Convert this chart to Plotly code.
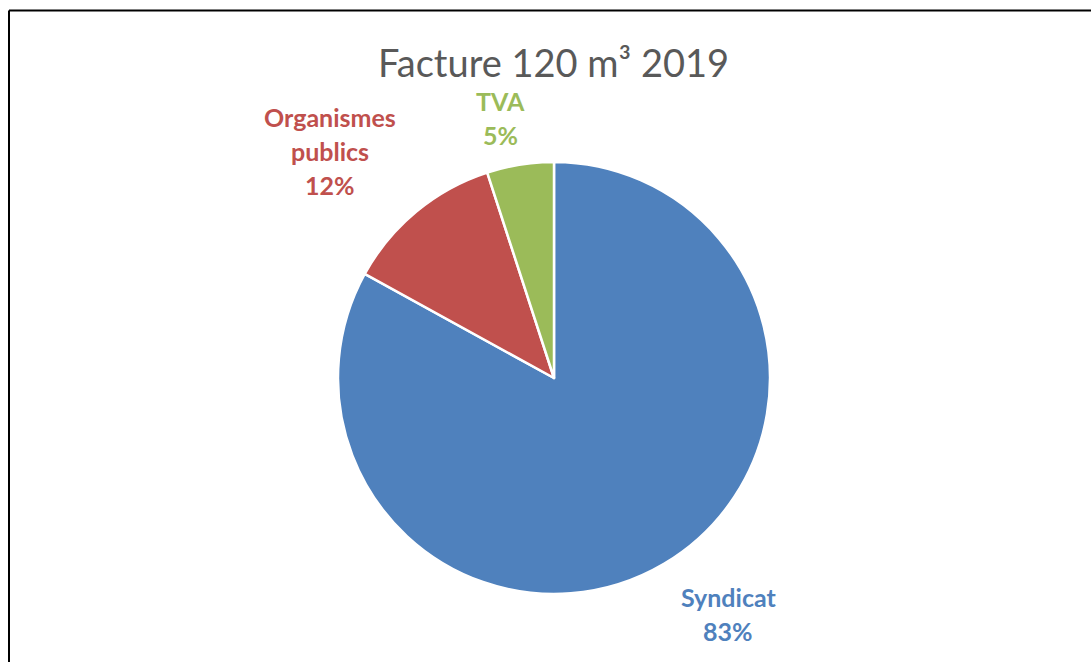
import plotly.graph_objects as go

title = "Facture 120 m³ 2019"
labels = ["Syndicat", "Organismes publics", "TVA"]
label_lines = [["Syndicat"], ["Organismes", "publics"], ["TVA"]]
values = [83, 12, 5]
colors = ["#4F81BD", "#C0504D", "#9BBB59"]

W, H = 1091, 662
fig = go.Figure()
fig.add_trace(go.Pie(
    labels=labels, values=values, sort=False, direction="clockwise", rotation=0,
    marker=dict(colors=colors, line=dict(color="white", width=2.5)),
    textinfo="none", hoverinfo="label+percent", showlegend=False,
    domain=dict(x=[338 / W, 770 / W], y=[1 - 594 / H, 1 - 162 / H]),
))

# label anchor positions (pixels) for each slice's text block: (center x, first line y)
label_pos = [(728, 597), (330, 117), (500, 101)]
line_gap = 34
total = sum(values)
anns = []
for i, lines in enumerate(label_lines):
    pct = f"{round(values[i] / total * 100)}%"
    cx, y0 = label_pos[i]
    for j, t in enumerate(lines + [pct]):
        anns.append(dict(
            text=f"<b>{t}</b>", x=cx / W, y=1 - (y0 + j * line_gap) / H,
            xref="paper", yref="paper", xanchor="center", yanchor="middle",
            showarrow=False, font=dict(family="Lato", size=25, color=colors[i]),
        ))
anns.append(dict(
    text=title, x=553 / W, y=1 - 62 / H, xref="paper", yref="paper",
    xanchor="center", yanchor="middle", showarrow=False,
    font=dict(family="Lato", size=38, color="#595959"),
))

fig.update_layout(
    width=W, height=H, margin=dict(l=0, r=0, t=0, b=0),
    paper_bgcolor="white", plot_bgcolor="white",
    annotations=anns,
    shapes=[
        dict(type="line", xref="paper", yref="paper", x0=9 / W, x1=1, y0=1 - 10.5 / H, y1=1 - 10.5 / H,
             line=dict(color="black", width=2)),
        dict(type="line", xref="paper", yref="paper", x0=9 / W, x1=9 / W, y0=0, y1=1 - 10.5 / H,
             line=dict(color="black", width=2)),
    ],
)
fig.write_html("out.html", config={"displayModeBar": False},
               post_script="document.body.style.margin='0';document.body.style.overflow='hidden';")
